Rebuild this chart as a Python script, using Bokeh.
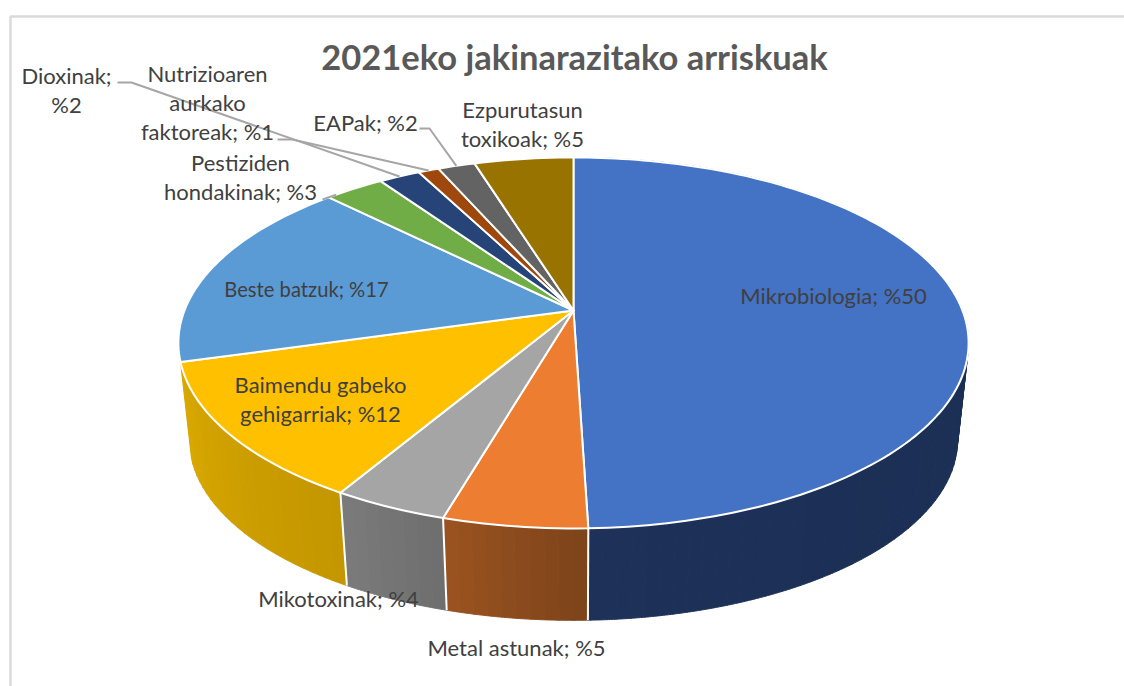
import numpy as np
from bokeh.plotting import figure
from bokeh.models import Range1d
from bokeh.core.properties import value
from bokeh.embed import file_html
from bokeh.resources import INLINE

# ---- data (clockwise from 12 o'clock) ----
categories = ["Mikrobiologia", "Metal astunak", "Mikotoxinak", "Baimendu gabeko gehigarriak",
              "Beste batzuk", "Pestiziden hondakinak", "Dioxinak",
              "Nutrizioaren aurkako faktoreak", "EAPak", "Ezpurutasun toxikoak"]
shares = [49.5, 5.0, 4.0, 12.1, 16.9, 2.9, 2.0, 1.0, 1.8, 4.8]
printed = [50, 5, 4, 12, 17, 3, 2, 1, 2, 5]
title = "2021eko jakinarazitako arriskuak"

# ---- styles ----
top_colors = ["#4472C4", "#ED7D31", "#A5A5A5", "#FFC000", "#5B9BD5",
              "#70AD47", "#264478", "#9E480E", "#636363", "#997300"]
wall_start = ["#1A2B4D", "#7D431A", "#6E6E6E", "#C49600"]
wall_end = ["#1D3159", "#9A5320", "#7B7B7B", "#D9A800"]

# ---- pie projection (reference pixel space) ----
CX, APEX, A, B, K = 573.0, 310.0, 389.0, 179.8, 0.175
BASE_APEX, BASE_S = 408.0, 0.972


def rim(theta, s=1.0, y0=APEX):
    X, Y = np.sin(theta), -np.cos(theta)
    d = 1 - K * Y
    return CX + s * A * X / d, y0 + s * B * Y / d


def hex2rgb(h):
    return np.array([int(h[i:i + 2], 16) for i in (1, 3, 5)], float)


def lerp(c1, c2, f):
    r = hex2rgb(c1) * (1 - f) + hex2rgb(c2) * f
    return "#%02x%02x%02x" % tuple(int(round(v)) for v in r)


edges = np.radians(np.concatenate([[0], np.cumsum(shares)]) * 3.6)

p = figure(width=1124, height=686, output_backend="svg", toolbar_location=None,
           x_range=Range1d(0, 1124), y_range=Range1d(686, 0), min_border=0,
           outline_line_color=None, background_fill_color="white",
           border_fill_color="white")
p.axis.visible = False
p.grid.visible = False

# frame of the screenshot
p.line([10, 10, 1124], [686, 16, 16], line_color="#DADADA", line_width=2.5)

# side walls (only the four front slices show one), split in narrow strips for the shading
wx, wy, wc = [], [], []
for i in range(len(wall_start)):
    a0, a1 = edges[i], edges[i + 1]
    n = max(6, int(shares[i] * 2))
    stops = np.linspace(a0, a1, n + 1)
    for j in range(n):
        t = np.linspace(stops[j], stops[j + 1], 10)
        tx, ty = rim(t)
        bx, by = rim(t, BASE_S, BASE_APEX)
        wx.append(np.concatenate([tx, bx[::-1]]).tolist())
        wy.append(np.concatenate([ty, by[::-1]]).tolist())
        wc.append(lerp(wall_start[i], wall_end[i], (j + .5) / n))
p.patches(wx, wy, fill_color=wc, line_color=wc, line_width=1)

# white seams on the front of the wall
for i in (0, 1, 2):
    tx, ty = rim(edges[i + 1])
    bx, by = rim(edges[i + 1], BASE_S, BASE_APEX)
    p.line([float(tx), float(bx)], [float(ty), float(by)], line_color="white", line_width=2)

# top faces
fx, fy = [], []
for i in range(len(shares)):
    t = np.linspace(edges[i], edges[i + 1], max(6, int(shares[i] * 3)))
    x, y = rim(t)
    fx.append([CX] + x.tolist())
    fy.append([APEX] + y.tolist())
p.patches(fx, fy, fill_color=top_colors, line_color="white", line_width=2, line_join="round")

# leader lines: label elbow -> point on the slice's rim
leaders = {5: ([(322, 199)], .15), 6: ([(117, 82), (131, 82)], .5),
           7: ([(277, 139), (292, 139)], .5), 8: ([(419, 128), (429, 128)], .5)}
for i, (pts, frac) in leaders.items():
    ex, ey = rim(edges[i] + (edges[i + 1] - edges[i]) * frac)
    xs = [q[0] for q in pts] + [float(ex)]
    ys = [q[1] for q in pts] + [float(ey)]
    p.line(xs, ys, line_color="#A6A6A6", line_width=2)

# labels: one entry per line of text
rows = [
    ([f"{categories[0]}; %{printed[0]}"], 833, 295, 22),
    ([f"{categories[1]}; %{printed[1]}"], 516, 647, 22),
    ([f"{categories[2]}; %{printed[2]}"], 338, 598, 22),
    (["Baimendu gabeko", f"gehigarriak; %{printed[3]}"], 320, 384, 22),
    ([f"{categories[4]}; %{printed[4]}"], 306, 288, 20.2),
    (["Pestiziden", f"hondakinak; %{printed[5]}"], 240, 162, 22),
    ([f"{categories[6]};", f"%{printed[6]}"], 66, 75, 22),
    (["Nutrizioaren", "aurkako", f"faktoreak; %{printed[7]}"], 207, 73, 22),
    ([f"{categories[8]}; %{printed[8]}"], 365, 122, 22),
    (["Ezpurutasun", f"toxikoak; %{printed[9]}"], 522, 109, 22),
]
for lines, x, y, size in rows:
    for k, line in enumerate(lines):
        p.text([x], [y + k * 29], text=[line], text_font=value("Lato"), text_font_size=f"{size}px",
               text_color="#404040", text_align="center", text_baseline="middle")

p.text([574], [56], text=[title], text_font=value("Lato"), text_font_size="34.5px",
       text_font_style="bold", text_color="#595959", text_align="center", text_baseline="middle")

open("out.html", "w").write(file_html(p, INLINE))
